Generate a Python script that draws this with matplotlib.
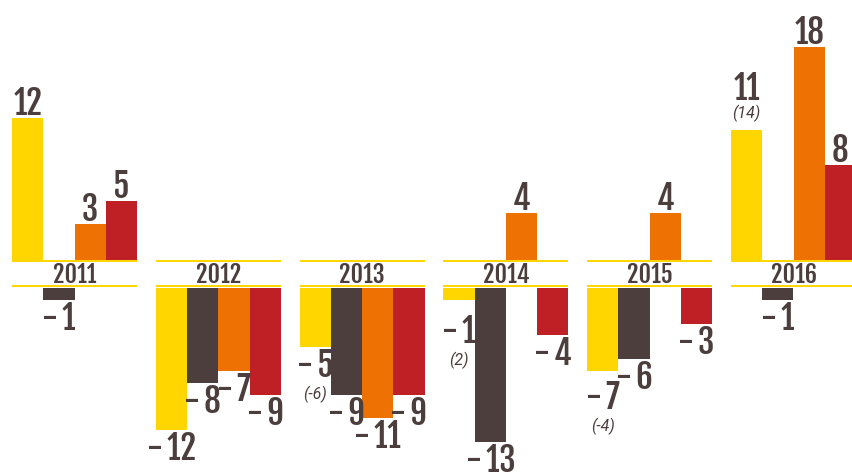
import matplotlib
matplotlib.use("Agg")
import matplotlib.pyplot as plt

# chart data
years = ['2011', '2012', '2013', '2014', '2015', '2016']
yellowVals = [12, -12, -5, -1, -7, 11]
darkVals = [-1, -8, -9, -13, -6, -1]
orangeVals = [3, -7, -11, 4, 4, 18]
redVals = [5, -9, -9, -4, -3, 8]
yellowNotes = ['', '', '(-6)', '(2)', '(-4)', '(14)']

seriesVals = [yellowVals, darkVals, orangeVals, redVals]
seriesColors = ['#FFD600', '#4B3E3D', '#EE7203', '#BF2026']
textColor = '#4B3E3D'

# layout (pixels -> data)
PX_PER_UNIT = 11.85
GAP = 28 / PX_PER_UNIT          # height of the year band
BAR_W = 0.217                   # in units of group pitch
PT = 0.72                       # points per pixel at 100 dpi

labelFont = ['Fjalla One', 'Roboto Condensed', 'DejaVu Sans']
noteFont = ['Roboto', 'DejaVu Sans']

# extra downward nudge (px) for a few negative labels that carry a note
labelNudge = {(3, 0): 13, (4, 0): 8}


def main():
    fig = plt.figure(figsize=(8.52, 4.72), dpi=100)
    ax = fig.add_axes([0, 0, 1, 1])
    ax.set_xlim(-74.5 / 143.8, (852 - 74.5) / 143.8)
    ax.set_ylim((260 - 472) / PX_PER_UNIT, 260 / PX_PER_UNIT)
    ax.axis('off')

    for i, year in enumerate(years):
        left = i - 2 * BAR_W
        right = i + 2 * BAR_W

        # year band with yellow rules above and below
        ax.hlines([-1 / PX_PER_UNIT, -26 / PX_PER_UNIT], left, right,
                  colors=seriesColors[0], linewidth=2 * PT)
        ax.text(i, -23 / PX_PER_UNIT, year, ha='center', va='baseline',
                fontsize=24 * PT, color=textColor, family=labelFont)

        for j, vals in enumerate(seriesVals):
            v = vals[i]
            x = i + (j - 1.5) * BAR_W
            note = yellowNotes[i] if j == 0 else ''
            if v >= 0:
                ax.bar(x, v, width=BAR_W, bottom=0, color=seriesColors[j],
                       linewidth=0)
                lift = 3 if not note else 30
                ax.annotate(str(v), (x, v), xytext=(0, lift * PT),
                            textcoords='offset points', ha='center',
                            va='baseline', fontsize=33 * PT,
                            color=textColor, family=labelFont)
                if note:
                    ax.annotate(note, (x, v), xytext=(0, 16 * PT),
                                textcoords='offset points', ha='center',
                                va='center', fontsize=16 * PT,
                                style='italic', color=textColor,
                                family=noteFont)
            else:
                ax.bar(x, v, width=BAR_W, bottom=-GAP, color=seriesColors[j],
                       linewidth=0)
                bottom = v - GAP
                drop = 30 + labelNudge.get((i, j), 0)
                ax.annotate('-\u2009%d' % abs(v), (x, bottom),
                            xytext=(0, -drop * PT),
                            textcoords='offset points', ha='center',
                            va='baseline', fontsize=33 * PT,
                            color=textColor, family=labelFont)
                if note:
                    ax.annotate(note, (x, bottom),
                                xytext=(0, -(drop + 9) * PT),
                                textcoords='offset points', ha='center',
                                va='top', fontsize=16 * PT,
                                style='italic', color=textColor,
                                family=noteFont)

    fig.savefig('out.png', dpi=100)


main()
